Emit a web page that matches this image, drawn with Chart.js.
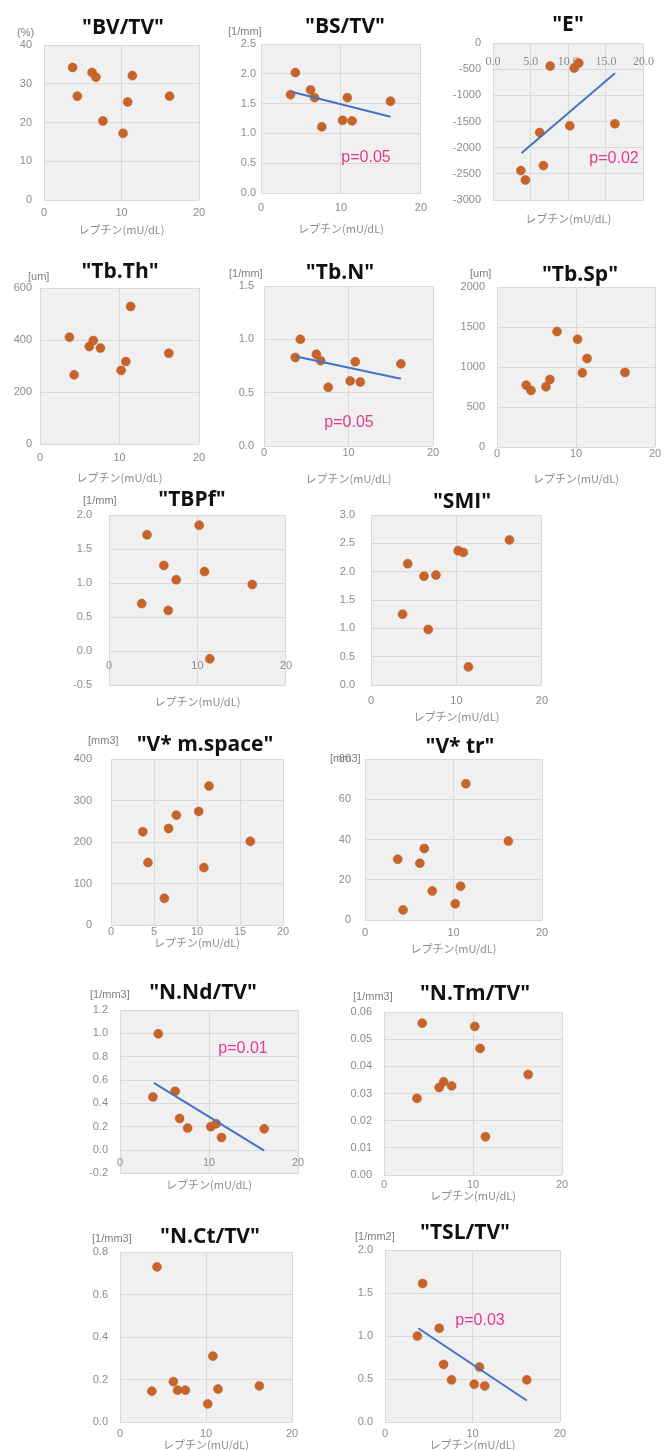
<!DOCTYPE html>
<html>
<head>
<meta charset="utf-8">
<script src="https://cdn.jsdelivr.net/npm/chart.js@4.4.1/dist/chart.umd.min.js"></script>
<style>
  body { margin: 0; background: #fff; width: 665px; height: 1450px; position: relative; overflow: hidden; }
  canvas { position: absolute; }
</style>
</head>
<body>
<script>
// leptin (mU/dL), same 9 samples in every panel
const leptin = [3.7, 4.3, 6.2, 6.7, 7.6, 10.2, 10.8, 11.4, 16.2];

const bvtv   = [34.2, 26.8, 32.9, 31.7, 20.4, 17.2, 25.3, 32.1, 26.8];
const bstv   = [1.65, 2.02, 1.73, 1.60, 1.11, 1.22, 1.60, 1.21, 1.54];
const eMod   = [-2438, -2617, -1710, -2342, -440, -1583, -479, -383, -1544];
const tbTh   = [411, 266, 375, 398, 369, 283, 317, 529, 349];
const tbN    = [0.83, 1.00, 0.86, 0.80, 0.55, 0.61, 0.79, 0.60, 0.77];
const tbSp   = [773, 707, 753, 844, 1443, 1347, 927, 1106, 931];
const tbpf   = [0.70, 1.71, 1.26, 0.60, 1.05, 1.85, 1.17, -0.11, 0.98];
const smi    = [1.25, 2.14, 1.92, 0.98, 1.94, 2.37, 2.34, 0.32, 2.56];
const vMspace = [225, 151, 65, 233, 265, 274, 139, 335, 202];
const vTr    = [30.2, 5.0, 28.2, 35.5, 14.4, 8.1, 16.8, 67.7, 39.2];
const nNdTv  = [0.455, 0.996, 0.504, 0.27, 0.188, 0.20, 0.225, 0.108, 0.182];
const nTmTv  = [0.0282, 0.0559, 0.0322, 0.0343, 0.0328, 0.0547, 0.0466, 0.0141, 0.037];
const nCtTv  = [0.145, 0.73, 0.19, 0.15, 0.15, 0.085, 0.31, 0.155, 0.17];
const tslTv  = [1.00, 1.61, 1.09, 0.67, 0.49, 0.44, 0.64, 0.42, 0.49];

// regression lines (end points)
const trendX    = [3.8, 16.2];
const bstvTrend = [1.70, 1.28];
const eTrend    = [-2100, -580];
const tbNTrend  = [0.84, 0.63];
const nNdTrend  = [0.575, -0.005];
const tslTrend  = [1.09, 0.25];

const GRAY = '#8c8c8c';
const xLabel = 'レプチン(mU/dL)';

// box = plot area [left, top, right, bottom] on the page
const panels = [
  { title: '"BV/TV"', y: bvtv, unit: '(%)', yMin: 0, yMax: 40, yStep: 10, dec: 0,
    box: [44, 45, 199, 200], titleAt: [123, 28], unitAt: [17, 33], xTitleY: 229, yPad: 12, xPad: 6 },
  { title: '"BS/TV"', y: bstv, unit: '[1/mm]', yMin: 0, yMax: 2.5, yStep: 0.5, dec: 1,
    box: [261, 44, 421, 193], titleAt: [345, 27], unitAt: [228, 32], xTitleY: 228, yPad: 5, xPad: 8,
    trend: bstvTrend, p: 'p=0.05', pAt: [366, 158] },
  { title: '"E"', y: eMod, yMin: -3000, yMax: 0, yStep: 500, dec: 0,
    box: [493, 43, 652, 200], titleAt: [568, 25], xTitleY: 218, yPad: 12, xPad: 12,
    xAt0: true, xStep: 5, xDec: 1, serif: true, trend: eTrend, p: 'p=0.02', pAt: [614, 159] },

  { title: '"Tb.Th"', y: tbTh, unit: '[um]', yMin: 0, yMax: 600, yStep: 200, dec: 0,
    box: [40, 288, 199, 444], titleAt: [120, 272], unitAt: [28, 277], xTitleY: 477, yPad: 8, xPad: 7 },
  { title: '"Tb.N"', y: tbN, unit: '[1/mm]', yMin: 0, yMax: 1.5, yStep: 0.5, dec: 1,
    box: [264, 286, 433, 446], titleAt: [340, 273], unitAt: [229, 274], xTitleY: 478, yPad: 10, xPad: 0,
    trend: tbNTrend, p: 'p=0.05', pAt: [349, 423] },
  { title: '"Tb.Sp"', y: tbSp, unit: '[um]', yMin: 0, yMax: 2000, yStep: 500, dec: 0,
    box: [497, 287, 655, 447], titleAt: [580, 275], unitAt: [470, 274], xTitleY: 478, yPad: 12, xPad: 0 },

  { title: '"TBPf"', y: tbpf, unit: '[1/mm]', yMin: -0.5, yMax: 2.0, yStep: 0.5, dec: 1,
    box: [109, 515, 286, 686], titleAt: [192, 500], unitAt: [83, 501], xTitleY: 702, yPad: 17, xPad: 8,
    xAt0: true },
  { title: '"SMI"', y: smi, yMin: 0, yMax: 3.0, yStep: 0.5, dec: 1,
    box: [371, 515, 543, 685], titleAt: [462, 502], xTitleY: 716, yPad: 16, xPad: 9 },

  { title: '"V* m.space"', y: vMspace, unit: '[mm3]', yMin: 0, yMax: 400, yStep: 100, dec: 0,
    box: [111, 759, 283, 927], titleAt: [205, 745], unitAt: [88, 741], xTitleY: 944, yPad: 19, xPad: 0,
    xStep: 5 },
  { title: '"V* tr"', y: vTr, unit: '[mm3]', yMin: 0, yMax: 80, yStep: 20, dec: 0,
    box: [365, 759, 542, 920], titleAt: [460, 747], unitAt: [330, 759], xTitleY: 948, yPad: 14, xPad: 6 },

  { title: '"N.Nd/TV"', y: nNdTv, unit: '[1/mm3]', yMin: -0.2, yMax: 1.2, yStep: 0.2, dec: 1,
    box: [120, 1010, 298, 1174], titleAt: [203, 993], unitAt: [90, 995], xTitleY: 1185, yPad: 12, xPad: 6,
    xAt0: true, trend: nNdTrend, p: 'p=0.01', pAt: [243, 1049] },
  { title: '"N.Tm/TV"', y: nTmTv, unit: '[1/mm3]', yMin: 0, yMax: 0.06, yStep: 0.01, dec: 2,
    box: [384, 1012, 562, 1175], titleAt: [475, 994], unitAt: [353, 997], xTitleY: 1195, yPad: 12, xPad: 3 },

  { title: '"N.Ct/TV"', y: nCtTv, unit: '[1/mm3]', yMin: 0, yMax: 0.8, yStep: 0.2, dec: 1,
    box: [120, 1252, 292, 1422], titleAt: [210, 1237], unitAt: [92, 1239], xTitleY: 1444, yPad: 12, xPad: 5 },
  { title: '"TSL/TV"', y: tslTv, unit: '[1/mm2]', yMin: 0, yMax: 2.0, yStep: 0.5, dec: 1,
    box: [385, 1250, 560, 1422], titleAt: [465, 1233], unitAt: [355, 1237], xTitleY: 1444, yPad: 12, xPad: 5,
    trend: tslTrend, p: 'p=0.03', pAt: [480, 1321] }
];

const plotBg = {
  id: 'plotBg',
  beforeDraw(chart) {
    const a = chart.chartArea;
    const ctx = chart.ctx;
    ctx.save();
    ctx.fillStyle = '#f0f0f0';
    ctx.fillRect(a.left, a.top, a.right - a.left, a.bottom - a.top);
    ctx.restore();
  }
};

const tickFont = { family: '"Liberation Sans", Arial, sans-serif', size: 11 };
const serifFont = { family: '"Liberation Serif", serif', size: 12 };
const gridColor = '#d9d9d9';

panels.forEach(p => {
  const YW = 50, PR = 14;
  const [l, t, r, b] = p.box;
  const left = l - YW;
  const top = p.titleAt[1] - 16;
  const w = r - left + PR;
  const h = p.xTitleY + 7 - top;
  const xH = p.xTitleY + 7 - b;

  const cv = document.createElement('canvas');
  cv.width = w;
  cv.height = h;
  cv.style.left = left + 'px';
  cv.style.top = top + 'px';
  document.body.appendChild(cv);

  // title, unit and p value
  const notes = {
    id: 'notes',
    afterDraw(chart) {
      const ctx = chart.ctx;
      ctx.save();
      ctx.textBaseline = 'middle';
      ctx.textAlign = 'center';
      ctx.fillStyle = '#111';
      ctx.font = 'bold 21px "Open Sans", sans-serif';
      ctx.fillText(p.title, p.titleAt[0] - left, p.titleAt[1] - top);
      if (p.unit) {
        ctx.textAlign = 'left';
        ctx.fillStyle = '#7f7f7f';
        ctx.font = '11px "Liberation Sans", Arial, sans-serif';
        ctx.fillText(p.unit, p.unitAt[0] - left, p.unitAt[1] - top);
      }
      if (p.p) {
        ctx.textAlign = 'center';
        ctx.fillStyle = '#e6398c';
        ctx.font = '16px "Liberation Sans", Arial, sans-serif';
        ctx.fillText(p.p, p.pAt[0] - left, p.pAt[1] - top);
      }
      ctx.restore();
    }
  };

  const datasets = [];
  if (p.trend) {
    datasets.push({
      data: trendX.map((x, i) => ({ x: x, y: p.trend[i] })),
      showLine: true,
      borderColor: '#4472c4',
      borderWidth: 2,
      pointRadius: 0,
      fill: false
    });
  }
  datasets.push({
    data: leptin.map((x, i) => ({ x: x, y: p.y[i] })),
    pointRadius: 4.5,
    pointBackgroundColor: '#c8642a',
    pointBorderColor: '#b45823',
    pointBorderWidth: 0.5
  });

  const xTitle = {
    display: true,
    text: xLabel,
    color: GRAY,
    font: { family: '"Noto Sans CJK JP", sans-serif', size: 11 },
    padding: 0
  };

  const scales = {
    x: {
      type: 'linear',
      min: 0,
      max: 20,
      position: p.xAt0 ? { y: 0 } : 'bottom',
      ticks: {
        stepSize: p.xStep || 10,
        color: GRAY,
        font: p.serif ? serifFont : tickFont,
        padding: p.xPad,
        maxRotation: 0,
        callback: v => p.xDec ? v.toFixed(p.xDec) : v
      },
      grid: { color: gridColor, drawTicks: false },
      border: { display: false },
      title: p.xAt0 ? { display: false } : xTitle,
      afterFit: s => { if (!p.xAt0) s.height = xH; }
    },
    y: {
      type: 'linear',
      min: p.yMin,
      max: p.yMax,
      ticks: {
        stepSize: p.yStep,
        color: GRAY,
        font: tickFont,
        padding: p.yPad,
        callback: v => (Math.abs(v) < 1e-9 ? 0 : v).toFixed(p.dec)
      },
      grid: { color: gridColor, drawTicks: false },
      border: { display: false },
      afterFit: s => { s.width = YW; }
    }
  };
  if (p.xAt0) {
    scales.x2 = {
      type: 'linear',
      position: 'bottom',
      min: 0,
      max: 20,
      ticks: { display: false },
      grid: { display: false, drawTicks: false },
      border: { display: false },
      title: xTitle,
      afterFit: s => { s.height = xH; }
    };
  }

  new Chart(cv.getContext('2d'), {
    type: 'scatter',
    data: { datasets: datasets },
    options: {
      responsive: false,
      animation: false,
      events: [],
      layout: { padding: { top: t - top, right: PR, left: 0, bottom: 0 } },
      scales: scales,
      plugins: {
        legend: { display: false },
        tooltip: { enabled: false },
        title: { display: false }
      }
    },
    plugins: [plotBg, notes]
  });
});
</script>
</body>
</html>
